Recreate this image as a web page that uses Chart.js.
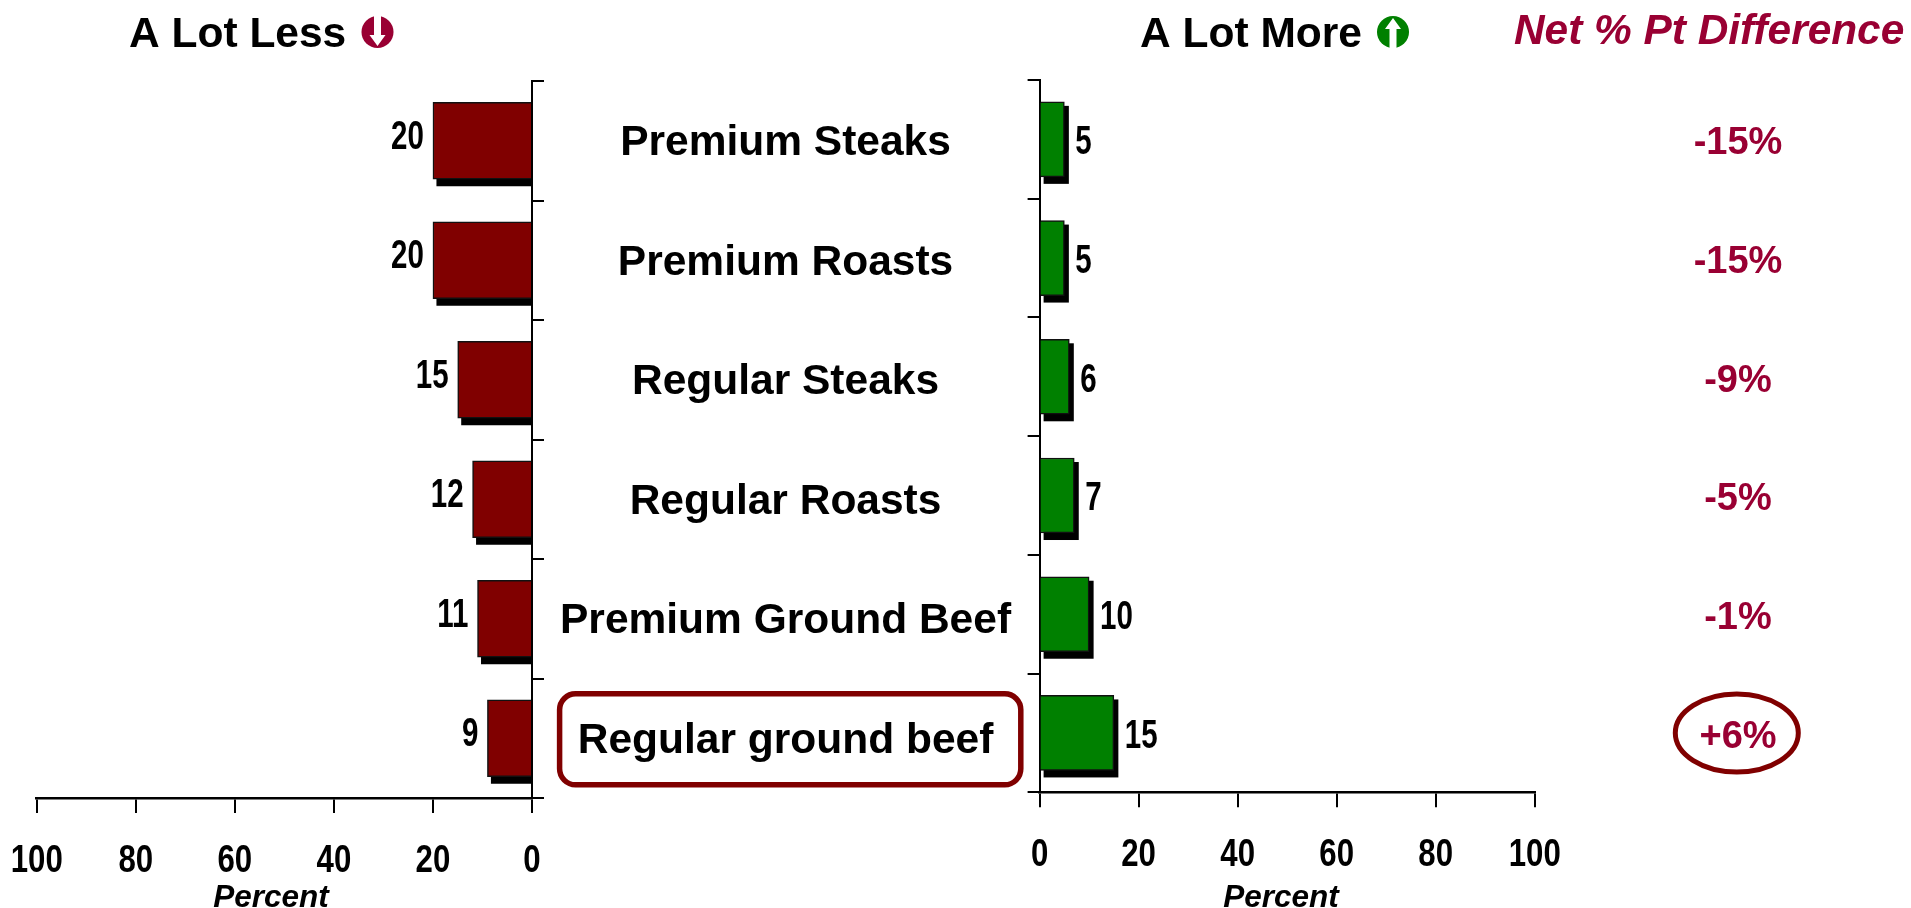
<!DOCTYPE html>
<html><head><meta charset="utf-8">
<script src="https://cdn.jsdelivr.net/npm/chart.js@4"></script>
<style>
html,body{margin:0;padding:0;background:#fff;overflow:hidden}
#wrap{position:relative;width:1911px;height:908px}
canvas{position:absolute;left:0;top:0}
</style></head><body>
<div id="wrap"><canvas id="less" width="1911" height="908"></canvas><canvas id="more" width="1911" height="908"></canvas></div>
<script>
const categories = ["Premium Steaks","Premium Roasts","Regular Steaks","Regular Roasts","Premium Ground Beef","Regular ground beef"];
const aLotLess = [20,20,15,12,11,9];
const aLotMore = [5,5,6,7,10,15];
const netDifference = ["-15%","-15%","-9%","-5%","-1%","+6%"];
const axisTicks = [0,20,40,60,80,100];
const W = 1911, H = 908;
const MAROON = "#800000", GREEN = "#008000", CRIMSON = "#990033";
const SANS = '"Liberation Sans", Arial, sans-serif';
const X_AXIS_BOX = 80;

function text(ctx, s, x, y, font, color, align, base) {
  ctx.save();
  ctx.font = font; ctx.fillStyle = color;
  ctx.textAlign = align || "left"; ctx.textBaseline = base || "alphabetic";
  ctx.fillText(s, x, y);
  ctx.restore();
}
// Numbers in the reference are set in a horizontally squeezed bold sans.
function squeezed(ctx, s, x, y, size, ratio, align) {
  ctx.save();
  ctx.translate(x, y); ctx.scale(ratio, 1);
  text(ctx, s, 0, 0, "bold " + size + "px " + SANS, "#000", align, "middle");
  ctx.restore();
}
function arrowIcon(ctx, cx, cy, color, up) {
  const d = up ? -1 : 1;
  ctx.save();
  ctx.fillStyle = color;
  ctx.beginPath(); ctx.ellipse(cx, cy, 16, 16, 0, 0, Math.PI * 2); ctx.fill();
  ctx.fillStyle = "#fff";
  ctx.beginPath();
  ctx.moveTo(cx - 3.5, cy - d * 17);
  ctx.lineTo(cx + 3.5, cy - d * 17);
  ctx.lineTo(cx + 3.5, cy + d * 3);
  ctx.lineTo(cx + 8, cy + d * 3);
  ctx.lineTo(cx, cy + d * 14);
  ctx.lineTo(cx - 8, cy + d * 3);
  ctx.lineTo(cx - 3.5, cy + d * 3);
  ctx.closePath(); ctx.fill();
  ctx.restore();
}
// Wraps a scale's label drawing: horizontal squeeze and small vertical nudge.
function tuneTicks(axis, ratio, dy) {
  return {
    id: "tuneTicks_" + axis,
    beforeDraw(chart) {
      const s = chart.scales[axis];
      if (s._tuned) return;
      s._tuned = true;
      const draw = s.drawLabels;
      s.drawLabels = function (area) {
        const ctx = this.ctx, orig = ctx.fillText;
        ctx.fillText = function (t, x, y, w) {
          this.save(); this.scale(ratio, 1);
          orig.call(this, t, x / ratio, y + dy, w);
          this.restore();
        };
        draw.call(this, area);
        delete ctx.fillText;
      };
    }
  };
}
function barShadow(side) {
  return {
    id: "barShadow",
    beforeDatasetsDraw(chart) {
      const ctx = chart.ctx;
      ctx.save(); ctx.fillStyle = "#000";
      chart.getDatasetMeta(0).data.forEach(b => {
        const p = b.getProps(["x","y","base","height"], true);
        const top = p.y - p.height / 2, bot = p.y + p.height / 2;
        if (side === "left") ctx.fillRect(p.x + 3.5, top + 4, p.base + 2 - p.x - 3.5, bot + 7 - top - 4);
        else ctx.fillRect(p.base + 3, top + 4, p.x + 4.5 - p.base - 3, bot + 7 - top - 4);
      });
      ctx.restore();
    }
  };
}
function valueLabels(side) {
  return {
    id: "valueLabels",
    afterDatasetsDraw(chart) {
      const ctx = chart.ctx, vals = chart.data.datasets[0].data;
      chart.getDatasetMeta(0).data.forEach((b, i) => {
        if (side === "left") squeezed(ctx, String(vals[i]), b.x - 9, b.y - 3.5, 41, 0.72, "right");
        else squeezed(ctx, String(vals[i]), b.x + 11, b.y + 3.5, 41, 0.72, "left");
      });
    }
  };
}
function baseOptions(reverse, pad, yPos, yTicks, yWidth) {
  return {
    indexAxis: "y", responsive: false, animation: false,
    layout: {padding: pad},
    plugins: {legend: {display: false}, tooltip: {enabled: false}},
    scales: {
      x: {
        type: "linear", position: "bottom", reverse, min: 0, max: 100,
        afterBuildTicks(s) { s.ticks = axisTicks.map(v => ({value: v})); },
        afterFit(s) { s.height = X_AXIS_BOX; },
        border: {color: "#000", width: 2.5},
        grid: {drawOnChartArea: false, drawTicks: true, color: "#000", lineWidth: 2, tickLength: 15},
        ticks: {font: {family: SANS, size: 39, weight: "bold"}, color: "#000", padding: 25, maxRotation: 0, autoSkip: false}
      },
      y: {
        type: "category", position: yPos, offset: true,
        border: {color: "#000", width: 2},
        grid: {offset: true, drawOnChartArea: false, drawTicks: true, color: "#000", lineWidth: 2, tickLength: 12},
        ticks: yTicks,
        afterFit(s) { s.width = yWidth; }
      }
    }
  };
}

Chart.defaults.font.family = SANS;

new Chart(document.getElementById("less"), {
  type: "bar",
  data: {labels: categories, datasets: [{data: aLotLess, backgroundColor: MAROON, borderColor: "#111", borderWidth: 1.5, barThickness: 77}]},
  options: baseOptions(true, {left: 36.7, right: W - 532 - 500, top: 81, bottom: H - 798 - X_AXIS_BOX}, "right", {
    font: {family: SANS, size: 42.5, weight: "bold"}, color: "#000", padding: 16,
    crossAlign: "center", autoSkip: false, maxRotation: 0
  }, 500),
  plugins: [tuneTicks("x", 0.8, 0), tuneTicks("y", 1, 3), barShadow("left"), valueLabels("left"), {
    id: "leftDecor",
    afterDraw(chart) {
      const ctx = chart.ctx;
      text(ctx, "A Lot Less", 129, 47, "bold 42.5px " + SANS, "#000");
      arrowIcon(ctx, 377.5, 32, CRIMSON, false);
      text(ctx, "Percent", 271, 907, "italic bold 31.5px " + SANS, "#000", "center", "alphabetic");
      ctx.save();
      ctx.strokeStyle = MAROON; ctx.lineWidth = 5.5;
      ctx.beginPath(); ctx.roundRect(559.6, 693.8, 461.2, 91, 16); ctx.stroke();
      ctx.restore();
    }
  }]
});

new Chart(document.getElementById("more"), {
  type: "bar",
  data: {labels: categories, datasets: [{data: aLotMore, backgroundColor: GREEN, borderColor: "#111", borderWidth: 1.5, barThickness: 75}]},
  options: baseOptions(false, {left: 1039.6 - 12, right: W - 1534.7, top: 80, bottom: H - 792.3 - X_AXIS_BOX}, "left", {display: false}, 12),
  plugins: [tuneTicks("x", 0.8, 0), barShadow("right"), valueLabels("right"), {
    id: "rightDecor",
    afterDraw(chart) {
      const ctx = chart.ctx, y = chart.scales.y;
      text(ctx, "A Lot More", 1140, 47, "bold 42.5px " + SANS, "#000");
      arrowIcon(ctx, 1393, 32, GREEN, true);
      text(ctx, "Net % Pt Difference", 1514, 44, "italic bold 42.4px " + SANS, CRIMSON);
      netDifference.forEach((s, i) => {
        text(ctx, s, 1738, y.getPixelForValue(i) + 4.5, "bold 38px " + SANS, CRIMSON, "center", "middle");
      });
      text(ctx, "Percent", 1281, 907, "italic bold 31.5px " + SANS, "#000", "center", "alphabetic");
      ctx.save();
      ctx.strokeStyle = MAROON; ctx.lineWidth = 5;
      ctx.beginPath(); ctx.ellipse(1736.8, 733, 61.5, 39, 0, 0, Math.PI * 2); ctx.stroke();
      ctx.restore();
    }
  }]
});
</script>
</body></html>
